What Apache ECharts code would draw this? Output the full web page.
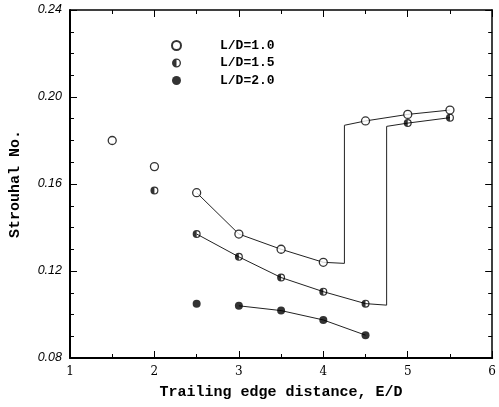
<!DOCTYPE html>
<html><head><meta charset="utf-8">
<script src="https://cdn.jsdelivr.net/npm/echarts@6/dist/echarts.min.js"></script>
<style>html,body{margin:0;padding:0;background:#fff}#c{width:499px;height:407px}</style>
</head><body><div id="c"></div>
<script>
// Data
const xA = [1.5, 2.0, 2.5, 3.0, 3.5, 4.0, 4.5, 5.0, 5.5];        // L/D = 1.0 points
const yA = [0.180, 0.168, 0.156, 0.137, 0.130, 0.124, 0.189, 0.192, 0.194];
const xB = [2.0, 2.5, 3.0, 3.5, 4.0, 4.5, 5.0, 5.5];             // L/D = 1.5 points
const yB = [0.157, 0.137, 0.1265, 0.117, 0.1105, 0.105, 0.188, 0.1905];
const xC = [2.5, 3.0, 3.5, 4.0, 4.5];                            // L/D = 2.0 points
const yC = [0.105, 0.104, 0.1018, 0.0975, 0.0905];
// Fitted curves (with jump)
const lineAx = [2.5, 3.0, 3.5, 4.0, 4.25, 4.25, 4.5, 5.0, 5.5];
const lineAy = [0.156, 0.137, 0.130, 0.124, 0.1235, 0.187, 0.189, 0.192, 0.194];
const lineBx = [2.5, 3.0, 3.5, 4.0, 4.5, 4.75, 4.75, 5.0, 5.5];
const lineBy = [0.137, 0.1265, 0.117, 0.1105, 0.105, 0.1043, 0.1865, 0.188, 0.1905];
const lineCx = [3.0, 3.5, 4.0, 4.5];
const lineCy = [0.104, 0.1018, 0.0975, 0.0905];
const seriesNames = ['L/D=1.0', 'L/D=1.5', 'L/D=2.0'];
const xTicks = [1, 2, 3, 4, 5, 6];
const yTicks = [0.08, 0.12, 0.16, 0.20, 0.24];

const zip = (a, b) => a.map((v, i) => [v, b[i]]);
const halfSym = 'path://M0,-10A10,10 0 1,1 0,10A10,10 0 1,1 0,-10Z M0,-7L0,7A7,7 0 0,0 0,-7Z';
const mono = '"Liberation Mono", "DejaVu Sans Mono", monospace';
const lineStyle = {color: '#222', width: 1};

const chart = echarts.init(document.getElementById('c'), null, {renderer: 'canvas'});
const axBase = {
  axisLine: {show: true, onZero: false, lineStyle: {color: '#000', width: 2}},
  axisTick: {show: true, inside: true, length: 7, lineStyle: {color: '#000', width: 1}},
  minorTick: {show: true, length: 4, lineStyle: {color: '#000', width: 1}},
  splitLine: {show: false}
};
chart.setOption({
  animation: false,
  backgroundColor: '#fff',
  grid: {left: 68, right: 2, top: 10, bottom: 49},
  legend: {
    orient: 'vertical', left: 166, top: 34, itemGap: 4.5,
    itemWidth: 9, itemHeight: 9,
    textStyle: {fontFamily: mono, fontWeight: 'bold', fontSize: 13, color: '#000', padding: [0, 0, 0, 34]},
    data: seriesNames
  },
  xAxis: [
    Object.assign({}, axBase, {
      type: 'value', min: xTicks[0], max: xTicks[xTicks.length - 1], interval: 1,
      minorTick: Object.assign({}, axBase.minorTick, {splitNumber: 2}),
      axisLabel: {color: '#000', fontFamily: '"DejaVu Serif", serif', fontSize: 12, margin: 8},
      name: 'Trailing edge distance, E/D', nameLocation: 'middle', nameGap: 27,
      nameTextStyle: {fontFamily: mono, fontWeight: 'bold', fontSize: 15, color: '#000'}
    }),
    Object.assign({}, axBase, {
      type: 'value', position: 'top', min: xTicks[0], max: xTicks[xTicks.length - 1], interval: 1,
      axisLine: {show: true, onZero: false, lineStyle: {color: '#000', width: 1.5}},
      minorTick: Object.assign({}, axBase.minorTick, {splitNumber: 2}),
      axisLabel: {show: false}
    })
  ],
  yAxis: [
    Object.assign({}, axBase, {
      type: 'value', min: yTicks[0], max: yTicks[yTicks.length - 1], interval: 0.04,
      minorTick: Object.assign({}, axBase.minorTick, {splitNumber: 4}),
      axisLabel: {color: '#000', fontFamily: '"Liberation Sans", sans-serif', fontStyle: 'italic', fontSize: 12.5, margin: 8,
        formatter: v => v.toFixed(2)},
      name: 'Strouhal No.', nameLocation: 'middle', nameGap: 47,
      nameTextStyle: {fontFamily: mono, fontWeight: 'bold', fontSize: 15, color: '#000'}
    }),
    Object.assign({}, axBase, {
      type: 'value', position: 'right', min: yTicks[0], max: yTicks[yTicks.length - 1], interval: 0.04,
      axisLine: {show: true, onZero: false, lineStyle: {color: '#000', width: 1.5}},
      minorTick: Object.assign({}, axBase.minorTick, {splitNumber: 4}),
      axisLabel: {show: false}
    })
  ],
  series: [
    {type: 'line', data: zip(lineAx, lineAy), showSymbol: false, symbol: 'none', lineStyle: lineStyle, z: 1, silent: true},
    {type: 'line', data: zip(lineBx, lineBy), showSymbol: false, symbol: 'none', lineStyle: lineStyle, z: 1, silent: true},
    {type: 'line', data: zip(lineCx, lineCy), showSymbol: false, symbol: 'none', lineStyle: lineStyle, z: 1, silent: true},
    {name: seriesNames[0], type: 'scatter', data: zip(xA, yA), symbol: 'circle', symbolSize: 8,
      itemStyle: {color: '#fff', borderColor: '#000', borderWidth: 1.3}, z: 3},
    {name: seriesNames[1], type: 'scatter', data: zip(xB, yB), symbol: halfSym, symbolSize: 8,
      itemStyle: {color: '#000'}, z: 3},
    {name: seriesNames[2], type: 'scatter', data: zip(xC, yC), symbol: 'circle', symbolSize: 8,
      itemStyle: {color: '#000'}, z: 3}
  ]
});
</script></body></html>
